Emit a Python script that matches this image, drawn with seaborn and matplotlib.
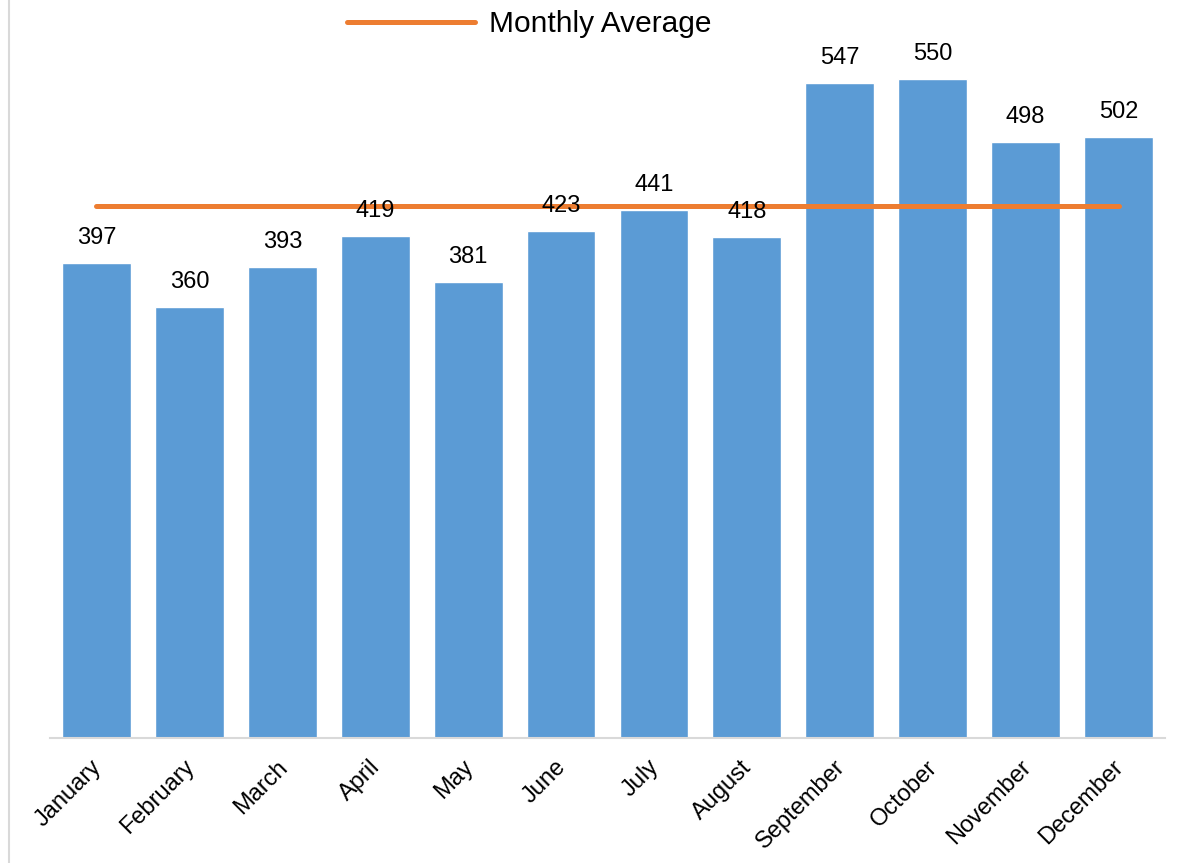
import matplotlib
matplotlib.use('Agg')
import matplotlib.pyplot as plt
from matplotlib.lines import Line2D
import matplotlib.transforms as mtransforms
import seaborn as sns
import pandas as pd

# values
months = ['January', 'February', 'March', 'April', 'May', 'June',
          'July', 'August', 'September', 'October', 'November', 'December']
counts = [397, 360, 393, 419, 381, 423, 441, 418, 547, 550, 498, 502]
monthly_average = 444

bar_color = '#5B9BD5'
line_color = '#ED7D31'

sns.set_theme(style='white')
plt.rcParams['font.family'] = ['Liberation Sans', 'DejaVu Sans']
plt.rcParams['text.color'] = 'black'

df = pd.DataFrame({'month': months, 'count': counts})

fig = plt.figure(figsize=(11.89, 8.63), dpi=100)
ax = fig.add_axes([50 / 1189, 1 - 738 / 863, 1115 / 1189, 733 / 863])

sns.barplot(data=df, x='month', y='count', color=bar_color, width=0.74,
            saturation=1, ax=ax)
ax.plot(months, [monthly_average] * len(months), color=line_color,
        linewidth=3.6, solid_capstyle='round', label='Monthly Average')

# data labels
for i, v in enumerate(counts):
    ax.annotate(str(v), (i, v), xytext=(0, 10), textcoords='offset points',
                ha='center', va='bottom', fontsize=17, color='black')

ax.set_xlim(-0.5, len(months) - 0.5)
ax.set_ylim(0, 612)
ax.set_xlabel('')
ax.set_ylabel('')
ax.set_yticks([])
ax.tick_params(axis='x', length=0, pad=13)
shift = mtransforms.ScaledTranslation(-6 / 100, 0, fig.dpi_scale_trans)
for lab in ax.get_xticklabels():
    lab.set_rotation(45)
    lab.set_ha('right')
    lab.set_rotation_mode('anchor')
    lab.set_fontsize(17)
    lab.set_color('black')
    lab.set_transform(lab.get_transform() + shift)

for s in ['top', 'right', 'left']:
    ax.spines[s].set_visible(False)
ax.spines['bottom'].set_color('#D9D9D9')
ax.spines['bottom'].set_linewidth(1.5)

# thin frame line on the far left
fig.add_artist(Line2D([9 / 1189, 9 / 1189], [0, 1], transform=fig.transFigure,
                      color='#D9D9D9', linewidth=1.5))

handles = [Line2D([], [], color=line_color, linewidth=3.6)]
fig.legend(handles, ['Monthly Average'], loc='center',
           bbox_to_anchor=(529 / 1189, 1 - 24 / 863), frameon=False,
           fontsize=21.5, handlelength=4.3, handletextpad=0.45,
           labelcolor='black')

fig.savefig('out.png', dpi=100)
